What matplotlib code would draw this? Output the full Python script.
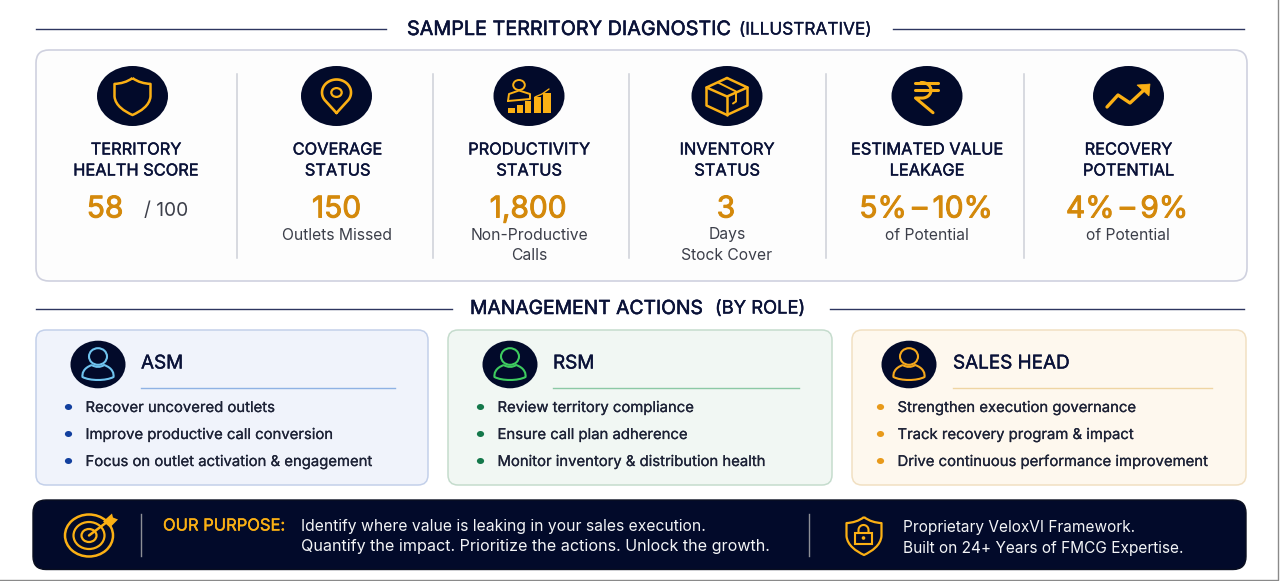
import numpy as np
import matplotlib
matplotlib.use("Agg")
import matplotlib.pyplot as plt
import matplotlib.patheffects as pe
from matplotlib.patches import FancyBboxPatch, Ellipse, Polygon, Rectangle, PathPatch
from matplotlib.path import Path

plt.rcParams['font.family'] = ['Inter', 'Noto Sans', 'DejaVu Sans']

NAVY = '#0a1238'
DARK = '#020a2a'
GOLD = '#fbb014'
AMBER = '#d4890b'
GREY = '#3c3f4a'

title_main = 'SAMPLE TERRITORY DIAGNOSTIC'
title_sub = '(ILLUSTRATIVE)'
section_main = 'MANAGEMENT ACTIONS'
section_sub = '(BY ROLE)'

kpi_titles = [['TERRITORY', 'HEALTH SCORE'], ['COVERAGE', 'STATUS'], ['PRODUCTIVITY', 'STATUS'],
              ['INVENTORY', 'STATUS'], ['ESTIMATED VALUE', 'LEAKAGE'], ['RECOVERY', 'POTENTIAL']]
kpi_values = ['58', '150', '1,800', '3', '5%\u2009–\u200910%', '4%\u2009–\u20099%']
kpi_notes = [[], ['Outlets Missed'], ['Non-Productive', 'Calls'], ['Days', 'Stock Cover'],
             ['of Potential'], ['of Potential']]
score_max = '/ 100'

roles = ['ASM', 'RSM', 'SALES HEAD']
role_actions = [['Recover uncovered outlets', 'Improve productive call conversion', 'Focus on outlet activation & engagement'],
                ['Review territory compliance', 'Ensure call plan adherence', 'Monitor inventory & distribution health'],
                ['Strengthen execution governance', 'Track recovery program & impact', 'Drive continuous performance improvement']]
purpose_label = 'OUR PURPOSE:'
purpose_lines = ['Identify where value is leaking in your sales execution.',
                 'Quantify the impact. Prioritize the actions. Unlock the growth.']
framework_lines = ['Proprietary VeloxVI Framework.', 'Built on 24+ Years of FMCG Expertise.']

fig = plt.figure(figsize=(12.8, 5.81), dpi=100, facecolor='white')
ax = fig.add_axes([0, 0, 1, 1])
ax.set_xlim(0, 1280)
ax.set_ylim(581, 0)
ax.axis('off')


def box(x0, y0, x1, y1, r, fc, ec, lw=1.2, z=1):
    p = FancyBboxPatch((x0 + r, y0 + r), x1 - x0 - 2 * r, y1 - y0 - 2 * r,
                       boxstyle=f'round,pad={r},rounding_size={r}', fc=fc, ec=ec, lw=lw, zorder=z)
    ax.add_patch(p)


def txt(x, y, s, size, color, ha='center', stroke=0.0, z=5):
    t = ax.text(x, y + 1.5, s, fontsize=size, color=color, ha=ha, va='center', zorder=z)
    if stroke:
        t.set_path_effects([pe.withStroke(linewidth=stroke, foreground=color)])
    return t


def line(xs, ys, c=GOLD, lw=1.6, z=6):
    ax.plot(xs, ys, color=c, lw=lw, zorder=z, solid_capstyle='round', solid_joinstyle='round')


def ell(cx, cy, rx, ry, fc='none', ec=GOLD, lw=1.5, z=6):
    ax.add_patch(Ellipse((cx, cy), 2 * rx, 2 * ry, fc=fc, ec=ec, lw=lw, zorder=z))


def shield(cx, top, w, h, c=GOLD, lw=1.8):
    # outline built from cubic curves: peak, shoulders, sides, bottom point
    hw = w / 2
    verts = [(cx, top),
             (cx - hw * .3, top + h * .11), (cx - hw * .65, top + h * .15), (cx - hw, top + h * .16),
             (cx - hw, top + h * .45), (cx - hw, top + h * .45), (cx - hw, top + h * .5),
             (cx - hw * .95, top + h * .75), (cx - hw * .45, top + h * .9), (cx, top + h),
             (cx + hw * .45, top + h * .9), (cx + hw * .95, top + h * .75), (cx + hw, top + h * .5),
             (cx + hw, top + h * .45), (cx + hw, top + h * .45), (cx + hw, top + h * .16),
             (cx + hw * .65, top + h * .15), (cx + hw * .3, top + h * .11), (cx, top)]
    codes = [Path.MOVETO] + [Path.CURVE4] * 18
    ax.add_patch(PathPatch(Path(verts, codes), fc='none', ec=c, lw=lw, zorder=6, joinstyle='round'))


def person(cx, c, lw=1.5):
    ell(cx, 356.5, 9, 8.3, ec=c, lw=lw)
    verts = [(cx - 6, 365), (cx - 15, 368), (cx - 16, 374), (cx - 15.5, 377),
             (cx - 8, 381), (cx + 8, 381), (cx + 15.5, 377),
             (cx + 16, 374), (cx + 15, 368), (cx + 6, 365),
             (cx + 3, 367.5), (cx - 3, 367.5), (cx - 6, 365)]
    cd = [Path.MOVETO] + [Path.CURVE4] * 12
    ax.add_patch(PathPatch(Path(verts, cd), fc='none', ec=c, lw=lw, zorder=6, joinstyle='round'))


# outer picture border
ax.plot([0, 1278, 1278], [579.5, 579.5, 0], color='#8a8a8a', lw=1.0, zorder=0)

# heading rules
for x0, x1, y in [(36, 386, 29), (893, 1244, 29), (36, 452, 309), (830, 1244, 309)]:
    ax.plot([x0, x1], [y, y], color='#2d3560', lw=1.0, zorder=2)

txt(407, 28.5, title_main, 14.25, NAVY, ha='left', stroke=0.4)
txt(739, 28.5, title_sub, 12.4, NAVY, ha='left', stroke=0.2)
txt(470, 307.5, section_main, 13.9, NAVY, ha='left', stroke=0.4)
txt(715, 307.5, section_sub, 13.2, NAVY, ha='left', stroke=0.3)

# KPI panel
box(36, 50, 1247, 281, 13, '#fdfdfd', '#cfd1df', 1.2)
for x in [237, 433, 629, 826, 1024]:
    ax.plot([x, x], [74, 258], color='#cdd0d8', lw=1.1, zorder=2)

icon_x = [132.5, 336.5, 529, 727, 927, 1128.5]
title_x = [136, 337.5, 529, 727, 927, 1128.5]
val_x = [105, 336.5, 528, 726, 926, 1127]
for i in range(6):
    ell(icon_x[i], 96, 35.5, 30, fc=DARK, ec='none', lw=0, z=4)
    txt(title_x[i], 148.5, kpi_titles[i][0], 11.8, NAVY, stroke=0.3)
    txt(title_x[i], 169.5, kpi_titles[i][1], 11.8, NAVY, stroke=0.3)
    txt(val_x[i], 208, kpi_values[i], 21.5, AMBER, stroke=0.7)
    for j, n in enumerate(kpi_notes[i]):
        txt(val_x[i] + 1, 233.5 + 20 * j, n, 11.3, GREY)
txt(166, 209, score_max, 13.8, GREY)

# shield icon
shield(132.5, 78, 36, 37)

# location pin
cx, cy = 336.5, 92.5
ang = np.radians(np.linspace(-215, 35, 60))
line(np.r_[cx, cx + 14.5 * np.cos(ang), cx], np.r_[113, cy + 13 * np.sin(ang), 113], lw=1.9)
ell(cx, cy, 5.2, 4.4, lw=1.6)

# productivity icon
ell(519, 85, 5.8, 5, lw=1.4)
line([508, 509, 519, 530, 530, 508], [101, 94, 90.5, 94, 99, 101], lw=1.4)
for bx, bw, bt in zip([508, 517, 525, 533.5, 542.5], [7, 6, 6, 7, 8], [108, 105, 101, 97, 93]):
    ax.add_patch(Rectangle((bx, bt), bw, 113 - bt, fc=GOLD, ec='none', zorder=6))
line([535, 542, 549], [97, 94, 89], lw=1.0)

# box icon
cx, cy = 727, 96.5
line([cx, cx + 20.5, cx, cx - 20.5, cx], [cy - 18.5, cy - 9, cy, cy - 9, cy - 18.5], lw=1.8)
line([cx - 20.5, cx - 20.5, cx, cx + 20.5, cx + 20.5], [cy - 9, cy + 9, cy + 18.5, cy + 9, cy - 9], lw=1.8)
line([cx, cx], [cy, cy + 18.5], lw=1.8)
line([cx - 9, cx + 9, cx + 9, cx + 6], [cy - 14, cy - 5, cy + 5, cy + 7], lw=1.4)

# rupee icon
line([915, 938], [82.5, 82.5], lw=2.2)
line([915, 938], [90.3, 90.3], lw=2.2)
a = np.radians(np.linspace(-90, 90, 30))
line(np.r_[921, 922 + 9 * np.cos(a), 915.5, 933],
     np.r_[82.5, 90.3 + 7.8 * np.sin(a), 98, 112.7], lw=2.2)

# growth arrow
line([1107, 1118, 1130, 1144], [107, 95, 103, 90], lw=2.4)
ax.add_patch(Polygon([(1137, 85), (1150, 84), (1149, 96)], fc=GOLD, ec=GOLD, lw=0.5, zorder=6))

# role cards
cards = [(36, 428, '#f0f3fb', '#c3d0ea', '#8fb2e4', '#6fc3ee', '#123f9e', 98, 141, 395),
         (448, 832, '#f1f7f3', '#c5dccd', '#8cc9a5', '#3ecb5f', '#14784a', 510, 553, 799),
         (852, 1246, '#fef8ee', '#f1e0c2', '#efd5a3', '#f5a81c', '#e89a1a', 909, 953, 1212)]
for (x0, x1, fc, ec, rule, pc, dot, ix, tx, rx), role, acts in zip(cards, roles, role_actions):
    box(x0, 330, x1, 485, 10, fc, ec, 1.1)
    ell(ix, 364.5, 27.5, 23.8, fc=DARK, ec='none', lw=0, z=4)
    person(ix, pc)
    txt(tx, 362, role, 13.6, NAVY, ha='left', stroke=0.3)
    ax.plot([tx, rx], [387.5, 387.5], color=rule, lw=1.0, zorder=3)
    for k, act in enumerate(acts):
        y = 407 + 27 * k
        ell(tx - 72.5, y, 3.6, 3.0, fc=dot, ec='none', lw=0, z=5)
        txt(tx - 55.5, y - 0.5, act, 10.7, '#1d2236', ha='left', stroke=0.15)

# footer
box(33, 500, 1246, 569.5, 13, DARK, '#0a0f20', 1.0, z=2)
for x in [141, 809]:
    ax.plot([x, x], [514, 556], color='#8d8f96', lw=1.0, zorder=3)
txt(163, 524.5, purpose_label, 11.9, GOLD, ha='left', stroke=0.3)
txt(301, 524.5, purpose_lines[0], 11.3, '#f3f4f6', ha='left')
txt(301, 545.5, purpose_lines[1], 11.6, '#f3f4f6', ha='left')
txt(903, 526, framework_lines[0], 11.1, '#f3f4f6', ha='left')
txt(903, 547, framework_lines[1], 11.1, '#f3f4f6', ha='left')

# target icon
cx, cy = 89, 535.5
for rx_, ry_, lw in [(24, 21, 1.8), (15.5, 13.5, 1.6), (7.5, 6.5, 1.6)]:
    ell(cx, cy, rx_, ry_, lw=lw)
line([cx, cx + 20], [cy, cy - 15], lw=1.8)
ax.add_patch(Polygon([(cx + 14, cy - 14), (cx + 23, cy - 22), (cx + 24, cy - 18), (cx + 29, cy - 16),
                      (cx + 21, cy - 8)], fc=GOLD, ec='none', zorder=6))

# lock shield icon
shield(864, 517, 35, 38, lw=1.6)
ax.add_patch(Rectangle((855, 533), 17, 10.5, fc='none', ec=GOLD, lw=1.5, zorder=6))
t_ = np.radians(np.linspace(180, 360, 30))
line(np.r_[858.5, 863.5 + 5 * np.cos(t_), 868.5], np.r_[533, 530 + 5 * np.sin(t_), 533], lw=1.5)
ell(863.5, 538, 1.8, 1.8, fc=GOLD, ec='none', lw=0)

fig.savefig('out.png', dpi=100, facecolor='white')
